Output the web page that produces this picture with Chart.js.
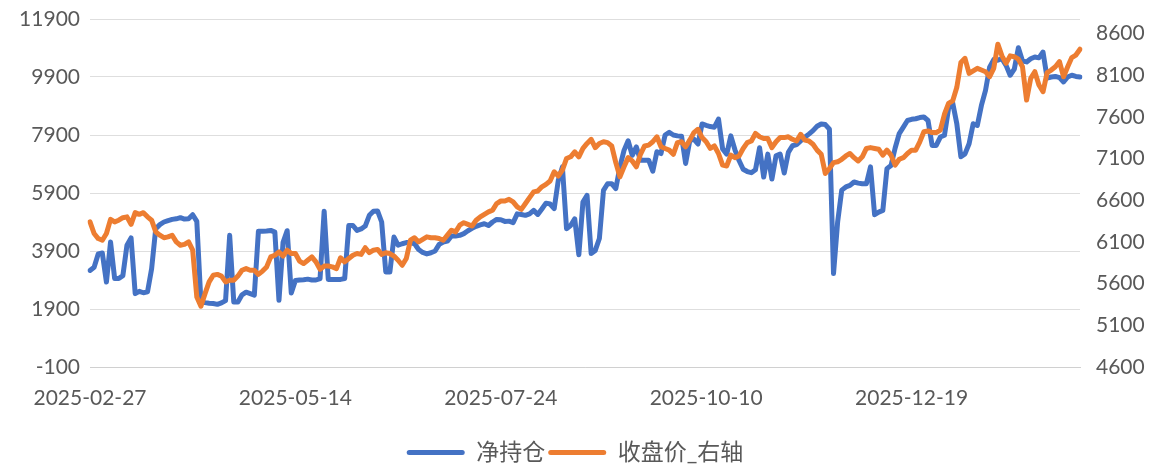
<!DOCTYPE html>
<html>
<head>
<meta charset="utf-8">
<script src="https://cdn.jsdelivr.net/npm/chart.js@4.4.1/dist/chart.umd.min.js"></script>
<style>
  html, body { margin: 0; padding: 0; background: #fff; }
  #wrap { width: 1150px; height: 465px; }
</style>
</head>
<body>
<div id="wrap"><canvas id="posChart"></canvas></div>
<script>
// ---- chart data ----
const startDate = "2025-02-27";
const endDate = "2026-02-26";
// exchange holidays falling on weekdays
const holidays = [
  "2025-04-04", "2025-05-01", "2025-05-02", "2025-05-05", "2025-06-02",
  "2025-10-01", "2025-10-02", "2025-10-03", "2025-10-06", "2025-10-07", "2025-10-08",
  "2026-01-01", "2026-01-02",
  "2026-02-16", "2026-02-17", "2026-02-18", "2026-02-19", "2026-02-20", "2026-02-23"
];
const xTickLabels = ["2025-02-27", "2025-05-14", "2025-07-24", "2025-10-10", "2025-12-19"];
const leftTicks = [-100, 1900, 3900, 5900, 7900, 9900, 11900];
const rightTicks = [4600, 5100, 5600, 6100, 6600, 7100, 7600, 8100, 8600];

// 净持仓 (left axis)
const netPosition = [
  3230, 3340, 3800, 3830, 2830, 4210, 2950, 2950, 3050, 4100,
  4350, 2430, 2510, 2460, 2490, 3290, 4670, 4810, 4900, 4950,
  4990, 5010, 5050, 5000, 5010, 5150, 4920, 2150, 2120, 2100,
  2090, 2060, 2110, 2190, 4440, 2140, 2140, 2390, 2480, 2430,
  2380, 4580, 4580, 4590, 4610, 4550, 2200, 4200, 4600, 2450,
  2880, 2900, 2910, 2930, 2900, 2900, 2950, 5270, 2920, 2920,
  2920, 2920, 2950, 4780, 4780, 4610, 4660, 4760, 5130, 5270,
  5280, 4900, 3180, 3180, 4380, 4100, 4150, 4190, 4190, 4150,
  3950, 3850, 3800, 3840, 3900, 4130, 4210, 4240, 4420, 4420,
  4440, 4500, 4600, 4680, 4750, 4800, 4840, 4780, 4900, 4990,
  4980, 4920, 4930, 4880, 5180, 5160, 5130, 5180, 5300, 5160,
  5350, 5550, 5520, 5360, 6340, 6800, 4670, 4780, 5010, 3770,
  5590, 5820, 3810, 3920, 4330, 5990, 6220, 6220, 6050, 6800,
  7370, 7700, 7200, 7490, 7030, 7030, 7030, 6650, 7320, 7260,
  7900, 7990, 7900, 7870, 7860, 6920, 7700, 7760, 7590, 8280,
  8230, 8190, 8170, 8450, 7420, 7240, 7870, 7390, 7020, 6720,
  6640, 6600, 6700, 7460, 6450, 7240, 6380, 7180, 7240, 6590,
  7300, 7530, 7570, 7700, 7820, 7930, 8050, 8200, 8280, 8260,
  8100, 3120, 4900, 6000, 6110, 6160, 6280, 6240, 6220, 6220,
  6800, 5150, 5240, 5300, 6740, 6850, 7450, 7950, 8170, 8400,
  8440, 8460, 8500, 8520, 8400, 7540, 7540, 7830, 7890, 8810,
  9010, 8300, 7150, 7250, 7600, 8290, 8230, 8920, 9440, 10240,
  10500, 10480, 10530, 10300, 9960, 10170, 10910, 10450, 10420, 10530,
  10590, 10560, 10760, 9860, 9900, 9920, 9880, 9730, 9900, 9960,
  9920, 9900
];

// 收盘价 (right axis)
const closePrice = [
  6340, 6200, 6140, 6120, 6200, 6370, 6340, 6360, 6390, 6400,
  6310, 6450, 6430, 6450, 6400, 6360, 6220, 6180, 6150, 6160,
  6180, 6100, 6060, 6070, 6100, 6000, 5440, 5330, 5480, 5620,
  5700, 5710, 5690, 5620, 5640, 5640, 5690, 5760, 5780, 5760,
  5760, 5710, 5750, 5800, 5920, 5940, 5980, 5930, 6000, 5960,
  5960, 5870, 5840, 5880, 5920, 5860, 5770, 5810, 5810, 5800,
  5780, 5910, 5860, 5900, 5940, 5960, 5950, 6030, 5970, 6000,
  6010, 5950, 5970, 5960, 5930, 5880, 5820, 5900, 6120, 6150,
  6100, 6130, 6160, 6150, 6150, 6140, 6120, 6180, 6240, 6220,
  6300, 6330, 6310, 6290, 6360, 6400, 6430, 6460, 6480, 6560,
  6590, 6590, 6610, 6580, 6520, 6490, 6560, 6630, 6700, 6710,
  6760, 6790, 6830, 6940, 6890, 6960, 7100, 7120, 7180, 7120,
  7220, 7280, 7330, 7230, 7280, 7300, 7290, 7250, 7050, 6880,
  7000, 7110, 7070, 7000, 7150, 7250, 7260, 7300, 7360, 7240,
  7220, 7200, 7150, 7290, 7300, 7240, 7320, 7410, 7450, 7350,
  7300, 7220, 7250, 7160, 7020, 7010, 7140, 7110, 7130, 7220,
  7290, 7310, 7400, 7360, 7340, 7340, 7230, 7300, 7350, 7350,
  7360, 7330, 7310, 7390, 7320, 7310, 7270, 7200, 7150, 6920,
  6980, 7050, 7060, 7090, 7130, 7160, 7110, 7070, 7120, 7220,
  7230, 7220, 7210, 7140, 7200, 7140, 7020, 7090, 7110, 7160,
  7200, 7200, 7300, 7420, 7430, 7410, 7410, 7440, 7630, 7760,
  7790, 7950, 8250, 8300, 8120, 8150, 8180, 8160, 8140, 8080,
  8180, 8470, 8330, 8240, 8330, 8320, 8290, 8200, 7800, 8060,
  8140, 7980, 7900, 8130, 8160, 8200, 8260, 8080, 8200, 8310,
  8340, 8410
];

// trading days between two dates (weekdays minus holidays)
function tradingDays(from, to, skip) {
  const out = [];
  const d = new Date(from + "T00:00:00Z");
  const last = new Date(to + "T00:00:00Z");
  while (d <= last) {
    const s = d.toISOString().slice(0, 10);
    const wd = d.getUTCDay();
    if (wd !== 0 && wd !== 6 && !skip.includes(s)) out.push(s);
    d.setUTCDate(d.getUTCDate() + 1);
  }
  return out;
}
const dates = tradingDays(startDate, endDate, holidays);

const fontFamily = "Lato, 'Noto Sans CJK SC', sans-serif";
const tickFont = { family: fontFamily, size: 21 };
Chart.defaults.color = "#595959";

// trim the extra space chart.js puts under the legend
const legendFit = {
  id: "legendFit",
  beforeLayout(chart) {
    const lg = chart.legend;
    if (lg && !lg._trimmed) {
      const fit = lg.fit;
      lg.fit = function () { fit.call(this); this.height -= 9; };
      lg._trimmed = true;
    }
  }
};

// fixed axis sizes so the plot area sits where the original has it
function fixWidth(w) {
  return (scale) => {
    scale.width = w;
    scale.paddingTop = 0;
    scale.paddingBottom = 0;
  };
}

const ctx = document.getElementById("posChart").getContext("2d");
new Chart(ctx, {
  type: "line",
  data: {
    labels: dates,
    datasets: [
      {
        label: "净持仓",
        data: netPosition,
        yAxisID: "y",
        borderColor: "#4472C4",
        backgroundColor: "#4472C4",
        borderWidth: 5,
        pointRadius: 0,
        tension: 0,
        borderJoinStyle: "round",
        borderCapStyle: "round",
        order: 2
      },
      {
        label: "收盘价_右轴",
        data: closePrice,
        yAxisID: "y1",
        borderColor: "#ED7D31",
        backgroundColor: "#ED7D31",
        borderWidth: 5,
        pointRadius: 0,
        tension: 0,
        borderJoinStyle: "round",
        borderCapStyle: "round",
        order: 1
      }
    ]
  },
  plugins: [legendFit],
  options: {
    responsive: true,
    maintainAspectRatio: false,
    animation: false,
    layout: { padding: { top: 19, left: 0, right: 0, bottom: 0 } },
    scales: {
      x: {
        offset: false,
        grid: { display: false, drawTicks: false },
        border: { display: true, color: "#D0D0D0", width: 1 },
        ticks: { autoSkip: false, maxRotation: 0, padding: 19, font: tickFont },
        afterBuildTicks: (scale) => {
          scale.ticks = scale.ticks.filter(t => xTickLabels.includes(dates[t.value]));
        },
        afterFit: (scale) => { scale.height = 71; }
      },
      y: {
        position: "left",
        min: -100,
        max: 11900,
        grid: { color: "#DEDEDE", lineWidth: 1, drawTicks: false },
        border: { display: false },
        ticks: { padding: 10, font: tickFont, callback: (v) => String(v) },
        afterBuildTicks: (scale) => { scale.ticks = leftTicks.map(v => ({ value: v })); },
        afterFit: fixWidth(90)
      },
      y1: {
        position: "right",
        min: 4600,
        max: 8772,
        grid: { display: false, drawTicks: false },
        border: { display: false },
        ticks: { padding: 16, font: tickFont, callback: (v) => String(v) },
        afterBuildTicks: (scale) => { scale.ticks = rightTicks.map(v => ({ value: v })); },
        afterFit: fixWidth(70)
      }
    },
    plugins: {
      tooltip: { enabled: false },
      legend: {
        position: "bottom",
        labels: {
          font: { family: fontFamily, size: 23 },
          boxWidth: 58,
          boxHeight: 5,
          padding: 3,
          sort: (a, b) => a.datasetIndex - b.datasetIndex,
          generateLabels: (chart) => {
            const items = Chart.defaults.plugins.legend.labels.generateLabels(chart);
            return items.map(it => Object.assign(it, {
              fillStyle: it.strokeStyle,
              lineWidth: 0,
              borderRadius: 2.5
            }));
          }
        }
      }
    }
  }
});
</script>
</body>
</html>
